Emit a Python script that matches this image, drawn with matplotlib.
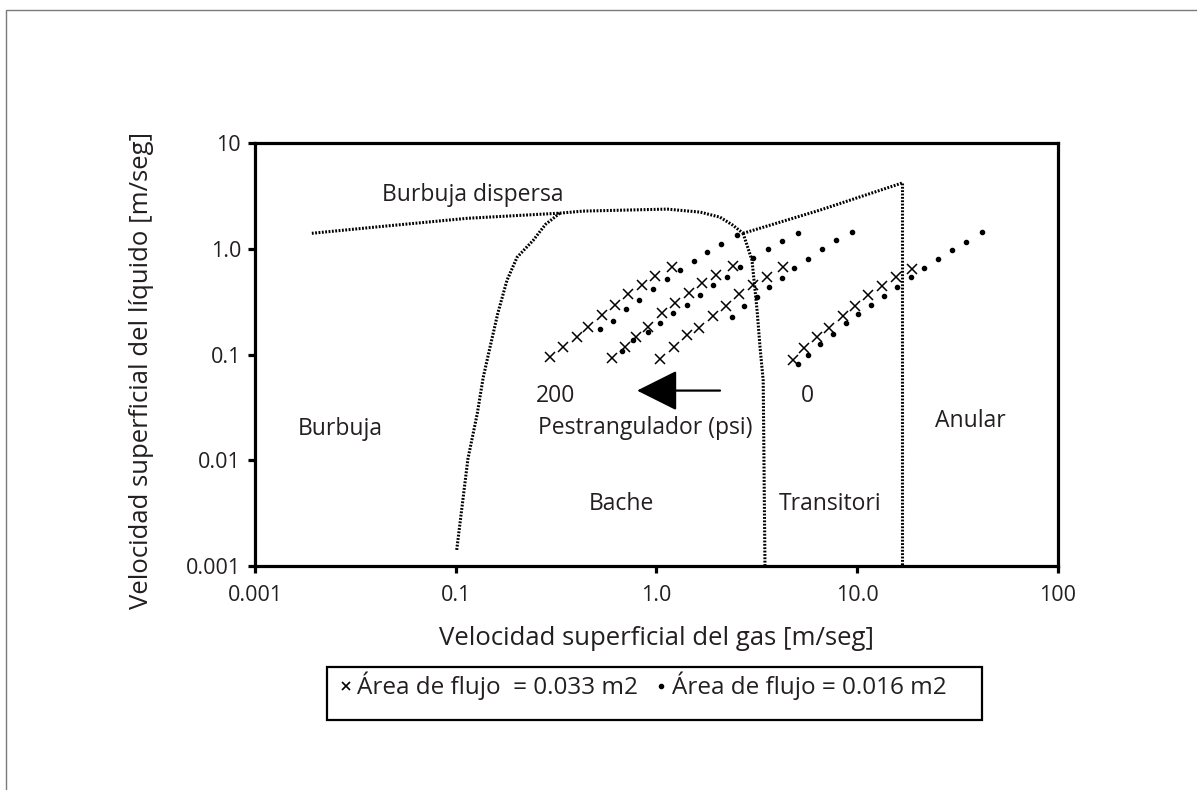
import matplotlib
matplotlib.use("Agg")
import matplotlib.pyplot as plt
from matplotlib.lines import Line2D
from matplotlib.patches import Rectangle

plt.rcParams["font.family"] = ["Open Sans", "DejaVu Sans"]

# flow-pattern boundaries (gas vs liquid superficial velocity, m/s)
dispersa_x = [0.0192, 0.0435, 0.114, 0.330, 0.430, 1.13, 1.65, 2.07, 2.40, 2.70]
dispersa_y = [1.40, 1.63, 1.94, 2.17, 2.27, 2.37, 2.22, 1.99, 1.67, 1.40]

burbuja_x = [0.330, 0.280, 0.243, 0.202, 0.180, 0.162, 0.148, 0.137, 0.128, 0.115, 0.101]
burbuja_y = [2.17, 1.70, 1.20, 0.830, 0.503, 0.245, 0.116, 0.0605, 0.0276, 0.0103, 0.00139]

bache_x = [2.70, 2.99, 3.17, 3.28, 3.40, 3.47]
bache_y = [1.40, 0.778, 0.261, 0.116, 0.0567, 0.001]

transit_x = [2.70, 6.52, 16.7]
transit_y = [1.40, 2.32, 4.18]

anular_x = [16.7, 16.7]
anular_y = [4.18, 0.001]

# operating points, flow area 0.033 m2 (x markers)
g1x_x = [0.295, 0.342, 0.402, 0.456, 0.535, 0.621, 0.721, 0.847, 0.983, 1.19]
g1x_y = [0.094, 0.119, 0.145, 0.184, 0.234, 0.291, 0.370, 0.451, 0.549, 0.668]
g2x_x = [0.600, 0.697, 0.790, 0.907, 1.065, 1.236, 1.451, 1.685, 1.979, 2.405]
g2x_y = [0.0937, 0.119, 0.145, 0.184, 0.245, 0.304, 0.379, 0.471, 0.561, 0.683]
g3x_x = [1.041, 1.222, 1.419, 1.628, 1.911, 2.219, 2.576, 3.025, 3.550, 4.268]
g3x_y = [0.0916, 0.1165, 0.1514, 0.180, 0.229, 0.285, 0.370, 0.451, 0.537, 0.668]
g4x_x = [4.786, 5.428, 6.306, 7.232, 8.492, 9.745, 11.31, 13.29, 15.60, 18.74]
g4x_y = [0.0897, 0.114, 0.145, 0.180, 0.229, 0.285, 0.362, 0.441, 0.537, 0.639]

# operating points, flow area 0.016 m2 (dots)
g1d_x = [0.523, 0.607, 0.705, 0.818, 0.961, 1.128, 1.309, 1.537, 1.785, 2.096, 2.518]
g1d_y = [0.173, 0.206, 0.267, 0.325, 0.413, 0.514, 0.625, 0.761, 0.926, 1.103, 1.343]
g2d_x = [0.673, 0.764, 0.907, 1.041, 1.208, 1.419, 1.648, 1.911, 2.245, 2.605, 3.025, 3.592, 4.220, 5.069]
g2d_y = [0.109, 0.136, 0.162, 0.197, 0.245, 0.291, 0.362, 0.451, 0.537, 0.668, 0.813, 0.989, 1.178, 1.403]
g3d_x = [2.377, 2.729, 3.167, 3.634, 4.220, 4.841, 5.684, 6.674, 7.837, 9.415]
g3d_y = [0.224, 0.285, 0.347, 0.432, 0.525, 0.653, 0.795, 0.989, 1.204, 1.433]
g4d_x = [5.069, 5.684, 6.522, 7.573, 8.79, 10.09, 11.71, 13.60, 15.78, 18.53, 21.50, 25.25, 29.65, 34.81, 41.83]
g4d_y = [0.0822, 0.100, 0.127, 0.158, 0.197, 0.239, 0.291, 0.355, 0.432, 0.537, 0.653, 0.795, 0.968, 1.152, 1.433]

xticks = [0.01, 0.1, 1, 10, 100]
xtick_labels = ["0.001", "0.1", "1.0", "10.0", "100"]
yticks = [0.001, 0.01, 0.1, 1, 10]
ytick_labels = ["0.001", "0.01", "0.1", "1.0", "10"]

txt = "#231f20"

fig = plt.figure(figsize=(11.97, 7.9), dpi=100)
ax = fig.add_axes([0.2130, 0.2835, 0.6709, 0.5355])
ax.set_xscale("log")
ax.set_yscale("log")
ax.set_xlim(0.01, 100)
ax.set_ylim(0.001, 10)

dot_style = dict(color="black", lw=2.2, linestyle=(0, (0.6, 0.5)), dash_capstyle="butt")
for bx, by in [(dispersa_x, dispersa_y), (burbuja_x, burbuja_y), (bache_x, bache_y),
               (transit_x, transit_y), (anular_x, anular_y)]:
    ax.plot(bx, by, **dot_style)

for gx, gy in [(g1x_x, g1x_y), (g2x_x, g2x_y), (g3x_x, g3x_y), (g4x_x, g4x_y)]:
    ax.plot(gx, gy, ls="none", marker="x", ms=7, mew=1.1, color="black")
for gx, gy in [(g1d_x, g1d_y), (g2d_x, g2d_y), (g3d_x, g3d_y), (g4d_x, g4d_y)]:
    ax.plot(gx, gy, ls="none", marker="o", ms=3, color="black")

# region names
fs = 16.5
ax.text(0.122, 3.21, "Burbuja dispersa", fontsize=fs, color=txt, ha="center", va="center")
ax.text(0.0265, 0.0199, "Burbuja", fontsize=fs, color=txt, ha="center", va="center")
ax.text(0.316, 0.0409, "200", fontsize=fs, color=txt, ha="center", va="center")
ax.text(0.876, 0.0203, "Pestrangulador (psi)", fontsize=fs, color=txt, ha="center", va="center")
ax.text(0.666, 0.00387, "Bache", fontsize=fs, color=txt, ha="center", va="center")
ax.text(7.31, 0.0039, "Transitori", fontsize=fs, color=txt, ha="center", va="center")
ax.text(5.62, 0.0409, "0", fontsize=fs, color=txt, ha="center", va="center")
ax.text(36.4, 0.0237, "Anular", fontsize=fs, color=txt, ha="center", va="center")

ax.annotate("", xy=(0.800, 0.0456), xytext=(2.072, 0.0456),
            arrowprops=dict(arrowstyle="-|>,head_length=1.6,head_width=0.8",
                            mutation_scale=16, lw=1.6, color="black",
                            shrinkA=0, shrinkB=0))

for s in ax.spines.values():
    s.set_linewidth(2.3)
    s.set_color("black")
ax.set_xticks(xticks)
ax.set_xticklabels(xtick_labels)
ax.set_yticks(yticks)
ax.set_yticklabels(ytick_labels)
ax.minorticks_off()
ax.tick_params(axis="both", direction="out", length=5, width=2.3, color="black",
               labelsize=15.5, labelcolor=txt)
ax.tick_params(axis="x", pad=9)
ax.tick_params(axis="y", pad=5)

ax.set_xlabel("Velocidad superficial del gas [m/seg]", fontsize=18.5, color=txt, labelpad=14)
ax.set_ylabel("Velocidad superficial del líquido [m/seg]", fontsize=18.5, color=txt)
ax.yaxis.set_label_coords(-0.126, 0.462)

# legend box below the axes
fig.patches.append(Rectangle((0.2732, 0.0886), 0.5472, 0.0671, transform=fig.transFigure,
                             fill=False, ec="black", lw=1.6))
handles = [Line2D([], [], ls="none", marker="x", ms=5.5, mew=1.2, color="black"),
           Line2D([], [], ls="none", marker="o", ms=3, color="black")]
fig.legend(handles, ["Área de flujo  = 0.033 m2", "Área de flujo = 0.016 m2"],
           loc="center left", bbox_to_anchor=(0.266, 0.1316), ncol=2, frameon=False,
           fontsize=17.5, handlelength=0.5, handletextpad=0.2, columnspacing=0.7,
           labelcolor=txt)

# thin outer frame
fig.patches.append(Rectangle((0.005, -0.5), 2.0, 0.987 + 0.5, transform=fig.transFigure,
                             fill=False, ec="#7a7a7a", lw=1.0))

fig.savefig("out.png", dpi=100)
